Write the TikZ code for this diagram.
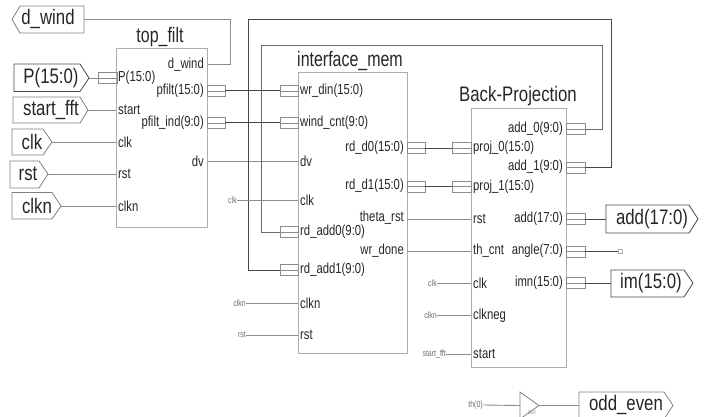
\documentclass[tikz,border=0pt]{standalone}
\usepackage{fontspec}
\setmainfont[FakeStretch=0.78]{Liberation Sans}
\newfontfamily\titlefont[FakeStretch=0.76]{Liberation Sans}
\newfontfamily\bpfont[FakeStretch=0.8]{Liberation Sans}
\newfontfamily\iofont[FakeStretch=0.8]{Liberation Sans}
\definecolor{boxc}{gray}{0.68}
\definecolor{wirec}{gray}{0.55}
\definecolor{midw}{gray}{0.42}
\definecolor{darkw}{gray}{0.28}
\definecolor{txt}{gray}{0.15}
\tikzset{
 x=1pt,y=-1pt,
 block/.style={draw=boxc,line width=1pt,fill=white},
 lab/.style={inner sep=0pt,font=\fontsize{14.5}{14.5}\selectfont,text=txt},
 title/.style={inner sep=0pt,font=\titlefont\fontsize{21}{21}\selectfont,text=txt,anchor=base},
 pin/.style={lab,anchor=west},
 pout/.style={lab,anchor=east},
 small/.style={inner sep=0pt,font=\fontsize{9}{9}\selectfont,text=gray!85!black,anchor=east},
 iolab/.style={inner sep=0pt,font=\iofont\fontsize{21}{21}\selectfont,text=txt},
 wire/.style={draw=wirec,line width=.9pt},
 bus/.style={draw=darkw,line width=1pt},
 port/.style={draw=wirec,line width=.6pt},
 iobox/.style={draw=gray,line width=.8pt,fill=white},
}
% bus stub: three parallel lines, closed at far end
\newcommand{\stub}[3]{\draw[port] (#1,#3-5.5) rectangle (#2,#3+5.5); \draw[port] (#1,#3) -- (#2,#3);}
\begin{document}
\begin{tikzpicture}
\useasboundingbox (0,0) rectangle (709,417);
% blocks
\node[title] (t1) at (160,43) {top\_filt};
\node[title] (t2) at (350,67) {interface\_mem};
\node[title,font=\bpfont\fontsize{21}{21}\selectfont] (t3) at (518,102) {Back-Projection};
\path[block] (116,49) rectangle (207.5,227);
\path[block] (298,73) rectangle (407,353);
\path[block] (471,108.5) rectangle (566,367);
% top_filt pins
\node[pin] (tp1) at (118,78) {P(15:0)};
\node[pin] (tp2) at (118,110) {start};
\node[pin] (tp3) at (118,142) {clk};
\node[pin] (tp4) at (118,174) {rst};
\node[pin] (tp5) at (118,206) {clkn};
\node[pout] (to0) at (204,65) {d\_wind};
\node[pout] (to1) at (204,91) {pfilt(15:0)};
\node[pout] (to2) at (204,123) {pfilt\_ind(9:0)};
\node[pout] (to3) at (204,161) {dv};
% mem pins
\node[pin] (m1) at (300,91) {wr\_din(15:0)};
\node[pin] (m2) at (300,123) {wind\_cnt(9:0)};
\node[pin] (m3) at (300,161) {dv};
\node[pin] (m4) at (300,200) {clk};
\node[pin] (m5) at (300,232) {rd\_add0(9:0)};
\node[pin] (m6) at (300,270) {rd\_add1(9:0)};
\node[pin] (m7) at (300,303) {clkn};
\node[pin] (m8) at (300,335) {rst};
\node[pout] (mo1) at (404,148) {rd\_d0(15:0)};
\node[pout] (mo2) at (404,186) {rd\_d1(15:0)};
\node[pout] (mo3) at (404,218) {theta\_rst};
\node[pout] (mo4) at (404,251) {wr\_done};
% BP pins
\node[pin] (b1) at (473,148) {proj\_0(15:0)};
\node[pin] (b2) at (473,187) {proj\_1(15:0)};
\node[pin] (b3) at (473,219) {rst};
\node[pin] (b4) at (473,251) {th\_cnt};
\node[pin] (b5) at (473,283) {clk};
\node[pin] (b6) at (473,316) {clkneg};
\node[pin] (b7) at (473,354) {start};
\node[pout] (bo1) at (563,129) {add\_0(9:0)};
\node[pout] (bo2) at (563,167) {add\_1(9:0)};
\node[pout] (bo3) at (563,219) {add(17:0)};
\node[pout] (bo4) at (563,251) {angle(7:0)};
\node[pout] (bo5) at (563,283) {imn(15:0)};
% IO markers
\path[iobox] (84,6) -- (20,6) -- (12,19.5) -- (20,33) -- (84,33) -- cycle;
\node[iolab] (i0) at (48,19) {d\_wind};
\path[iobox,draw=darkw] (14,64) -- (80,64) -- (89,78) -- (80,91.5) -- (14,91.5) -- cycle;
\node[iolab] (i1) at (51,78) {P(15:0)};
\path[iobox] (13,97) -- (80,97) -- (88,110) -- (80,123) -- (13,123) -- cycle;
\node[iolab] (i2) at (51,110) {start\_fft};
\path[iobox] (12,129) -- (43,129) -- (52,142) -- (43,155) -- (12,155) -- cycle;
\node[iolab] (i3) at (32,142) {clk};
\path[iobox] (10,161) -- (39,161) -- (48,174) -- (39,188) -- (10,188) -- cycle;
\node[iolab] (i4) at (28,174) {rst};
\path[iobox] (12,192.5) -- (52,192.5) -- (61,206) -- (52,219) -- (12,219) -- cycle;
\node[iolab] (i5) at (37,206) {clkn};
\path[iobox,draw=darkw] (606,205) -- (689,205) -- (698,219) -- (689,233) -- (606,233) -- cycle;
\node[iolab] (i6) at (652,219) {add(17:0)};
\path[iobox,draw=darkw] (611,270) -- (684,270) -- (693,283) -- (684,297) -- (611,297) -- cycle;
\node[iolab] (i7) at (651,283) {im(15:0)};
\path[iobox] (579,392) -- (664,392) -- (673,405.5) -- (664,419) -- (579,419) -- cycle;
\node[iolab] (i8) at (626,405) {odd\_even};
% left wires
\draw[wire] (84,19.5) -- (230,19.5) -- (230,64.5) -- (207.5,64.5);
\draw[wire] (89,78) -- (98,78); \stub{98}{117}{78}
\draw[wire] (88,110) -- (116,110);
\draw[wire] (52,142) -- (116,142);
\draw[wire] (48,174) -- (116,174);
\draw[wire] (61,206) -- (116,206);
% interconnect buses
\stub{207.5}{225}{91} \stub{280}{298}{91}
\draw[bus] (225,91) -- (280,91);
\stub{207.5}{225}{123} \stub{280}{298}{123}
\draw[bus] (225,123) -- (280,123);
\draw[wire] (207.5,161) -- (298,161);
% add buses back
\stub{566}{585}{129}
\draw[draw=midw,line width=.9pt] (585,129) -- (602,129) -- (602,45) -- (261,45) -- (261,232) -- (280,232);
\stub{280}{298}{232}
\stub{566}{585}{167.5}
\draw[bus] (585,167.5) -- (611.5,167.5) -- (611.5,20) -- (248,20) -- (248,270) -- (280,270);
\stub{280}{298}{270}
% small left labels
\node[small] (s1) at (237,200) {clk};
\draw[wire] (s1.east) -- (298,200);
\node[small] (s2) at (246,303) {clkn};
\draw[wire] (s2.east) -- (298,303);
\node[small] (s3) at (246,335) {rst};
\draw[wire] (s3.east) -- (298,335);
% mem to BP
\stub{407}{425}{148} \stub{452}{471}{148}
\draw[bus] (425,148) -- (452,148);
\stub{407}{425}{186.5} \stub{452}{471}{186.5}
\draw[bus] (425,186.5) -- (452,186.5);
\draw[wire] (407,219) -- (471,219);
\draw[wire] (407,251) -- (471,251);
\node[small] (s4) at (437,283) {clk};
\draw[wire] (s4.east) -- (471,283);
\node[small] (s5) at (437,315.5) {clkn};
\draw[wire] (s5.east) -- (471,315.5);
\node[small] (s6) at (446,354) {start\_fft};
\draw[wire] (s6.east) -- (471,354);
% outputs
\stub{566}{585}{219} \draw[bus] (585,219) -- (606,219);
\stub{566}{585}{251.5} \draw[bus,line width=.7pt] (585,251.5) -- (618,251.5);
\draw[port,draw=boxc] (618,249.5) rectangle (622,253.5);
\stub{566}{585}{283} \draw[bus] (585,283) -- (611,283);
% buffer
\node[small] (s7) at (483,405) {th(0)};
\draw[wire] (s7.east) -- (520,405.5);
\path[iobox] (520,392) -- (539,405.5) -- (520,419) -- cycle;
\node[inner sep=0pt,font=\fontsize{5}{5}\selectfont,text=gray] (s8) at (532,413) {BUF};
\draw[wire] (539,405.5) -- (579,405.5);
\end{tikzpicture}
\end{document}
